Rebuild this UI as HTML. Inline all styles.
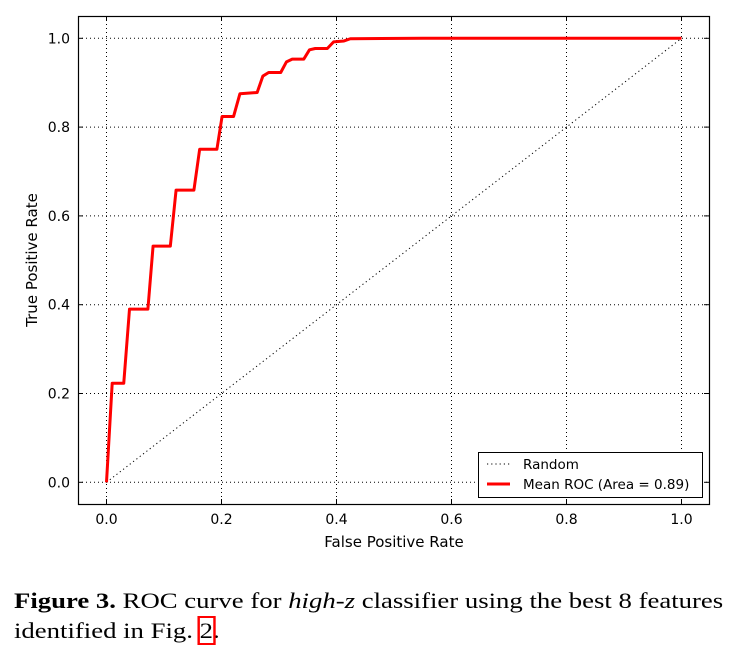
<!DOCTYPE html>
<html><head><meta charset="utf-8"><style>
body{margin:0;background:#fff;width:750px;height:648px;overflow:hidden}
svg text{font-family:"DejaVu Sans",sans-serif}
.cap{position:absolute;left:14px;top:586px;font-family:"Liberation Serif",serif;font-size:22px;line-height:30px;color:#000;white-space:nowrap;transform:scaleX(1.215);transform-origin:0 0}
</style></head><body>
<svg id="chart" width="750" height="580" style="position:absolute;left:0;top:0">
<g id="grid"></g><g id="axes"></g><g id="series"></g>
<text x="394" y="547" font-size="15" text-anchor="middle">False Positive Rate</text>
<text x="37" y="260" font-size="15" text-anchor="middle" transform="rotate(-90 37 260)">True Positive Rate</text>
<g>
<rect x="478.5" y="452.5" width="224" height="45" fill="#fff" stroke="#000" stroke-width="1"/>
<line x1="487" y1="464" x2="510" y2="464" stroke="#000" stroke-dasharray="1.2,3"/>
<text x="523" y="469" font-size="13.5">Random</text>
<line x1="487" y1="484" x2="510" y2="484" stroke="#f00" stroke-width="3"/>
<text x="523" y="489" font-size="13.5">Mean ROC (Area = 0.89)</text>
</g>
</svg>
<div class="cap"><b>Figure 3.</b> ROC curve for <i>high-z</i> classifier using the best 8 features<br>identified in Fig. <span style="outline:2px solid #f00;outline-offset:0">2</span>.</div>
<script>
const fpr=[0,0.0099,0.030,0.040,0.072,0.081,0.111,0.121,0.152,0.162,0.192,0.201,0.221,0.232,0.262,0.272,0.282,0.303,0.313,0.323,0.343,0.353,0.363,0.384,0.395,0.413,0.424,0.55,1.0];
const tpr=[0,0.223,0.223,0.390,0.390,0.532,0.532,0.658,0.658,0.750,0.750,0.824,0.824,0.875,0.878,0.915,0.923,0.923,0.947,0.953,0.953,0.974,0.977,0.977,0.992,0.994,0.999,1.0,1.0];
const ticks=[0,0.2,0.4,0.6,0.8,1.0];
const tickLabels=["0.0","0.2","0.4","0.6","0.8","1.0"];
const NS="http://www.w3.org/2000/svg";
const X0=78,X1=709,Y0=16,Y1=504;
const sx=v=>106.5+v*575, sy=v=>482.3-v*444;
function mk(tag,attrs,parent){const e=document.createElementNS(NS,tag);for(const k in attrs)e.setAttribute(k,attrs[k]);parent.appendChild(e);return e;}
const grid=document.getElementById('grid'),axes=document.getElementById('axes'),series=document.getElementById('series');
ticks.forEach((t,i)=>{
 let g=mk('line',{x1:sx(t),x2:sx(t),y1:Y0,y2:Y1,stroke:'#000','stroke-dasharray':'1,3','stroke-width':1},grid);
 
 
 g=mk('line',{x1:X0,x2:X1,y1:sy(t),y2:sy(t),stroke:'#000','stroke-dasharray':'1,3','stroke-width':1},grid);
 
 
 mk('line',{x1:sx(t),x2:sx(t),y1:Y1,y2:Y1-5,stroke:'#000'},axes);
 mk('line',{x1:sx(t),x2:sx(t),y1:Y0,y2:Y0+5,stroke:'#000'},axes);
 mk('line',{x1:X0,x2:X0+5,y1:sy(t),y2:sy(t),stroke:'#000'},axes);
 mk('line',{x1:X1,x2:X1-5,y1:sy(t),y2:sy(t),stroke:'#000'},axes);
 let tx=mk('text',{x:sx(t),y:524,'font-size':14,'text-anchor':'middle'},axes);tx.textContent=tickLabels[i];
 
 
 let ty=mk('text',{x:70,y:sy(t)+5,'font-size':14,'text-anchor':'end'},axes);ty.textContent=tickLabels[i];
 
 
});
const fr=mk('rect',{x:X0+0.5,y:Y0+0.5,width:X1-X0,height:Y1-Y0,fill:'none',stroke:'#000','stroke-width':1.2},axes);


const rnd=mk('line',{x1:sx(0),y1:sy(0),x2:sx(1),y2:sy(1),stroke:'#000','stroke-dasharray':'1.2,3'},series);


const roc=mk('polyline',{points:fpr.map((v,i)=>sx(v)+','+sy(tpr[i])).join(' '),fill:'none',stroke:'#f00','stroke-width':3,'stroke-linejoin':'round'},series);


</script>
</body></html>
